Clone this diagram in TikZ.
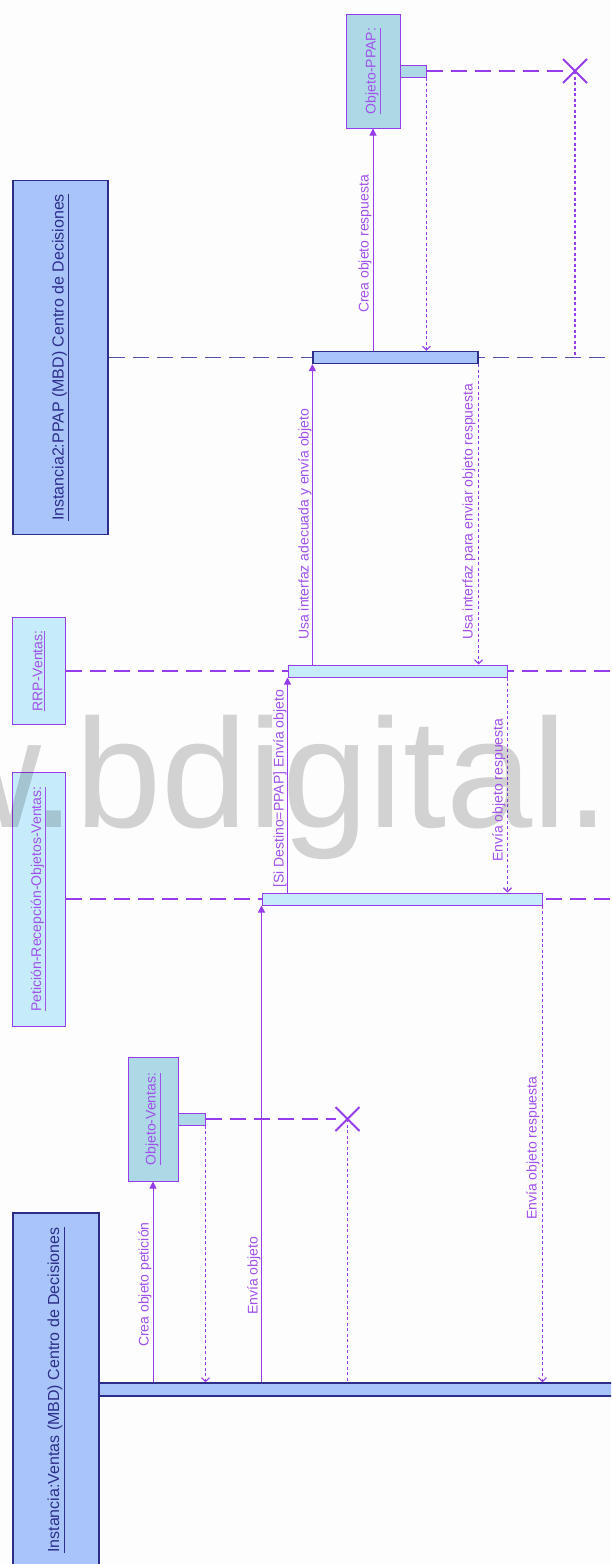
\documentclass[tikz,border=0pt]{standalone}
\usepackage{fontspec}
\setmainfont{Liberation Sans}
\usetikzlibrary{arrows.meta,shapes.misc}
\definecolor{pline}{RGB}{150,60,235}
\definecolor{ptext}{RGB}{160,80,235}
\definecolor{navy}{RGB}{45,45,140}
\definecolor{navylight}{RGB}{80,80,165}
\definecolor{instfill}{RGB}{168,196,248}
\definecolor{cyanfill}{RGB}{198,236,252}
\definecolor{objfill}{RGB}{173,216,230}
\definecolor{bgc}{RGB}{253,253,253}
\begin{document}
\begin{tikzpicture}[x=1pt,y=-1pt,
  instbox/.style={draw=navy, fill=instfill, line width=1.2pt, rotate=90, text=navy,
    font=\fontsize{16}{18}\selectfont, inner sep=0pt},
  objbox/.style={draw=pline, fill=objfill, line width=1pt, rotate=90, text=ptext,
    font=\fontsize{14}{16}\selectfont, inner sep=0pt},
  ctlbox/.style={objbox, fill=cyanfill},
  instbar/.style={draw=navy, fill=instfill, line width=1.2pt, inner sep=0pt, minimum height=12pt},
  ctlbar/.style={draw=pline, fill=cyanfill, line width=1pt, inner sep=0pt, minimum height=12pt},
  actbox/.style={draw=pline, fill=objfill, line width=1pt, inner sep=0pt, minimum height=12pt},
  life/.style={draw=pline, line width=1.2pt, dash pattern=on 16pt off 8pt},
  navylife/.style={draw=navylight, line width=1.2pt, dash pattern=on 16pt off 8pt},
  call/.style={draw=pline, line width=1pt, -{Triangle[width=7pt,length=7pt]}},
  ret/.style={draw=pline, line width=1.1pt, dash pattern=on 3pt off 2.5pt, -{Straight Barb[width=8pt,length=4pt]}},
  destroyline/.style={draw=pline, line width=1.1pt, dash pattern=on 3pt off 2.5pt},
  xmark/.style={cross out, draw=pline, line width=2pt, minimum size=22pt, inner sep=0pt},
  lbl/.style={rotate=90, anchor=base west, text=ptext, font=\fontsize{14}{16}\selectfont, inner sep=0pt}]
\useasboundingbox (0,0) rectangle (611,1564);
\clip (0,0) rectangle (611,1564);
\fill[bgc] (0,0) rectangle (611,1564);

% right-edge coordinates
\coordinate (e2) at (640,357.5);
\coordinate (er) at (640,671);
\coordinate (ep) at (640,899);

% lifeline heads
\node[instbox, minimum width=354pt, minimum height=95pt] (inst2) at (60.5,357.5) {\underline{Instancia2:PPAP (MBD) Centro de Decisiones}};
\node[objbox, minimum width=114pt, minimum height=54pt] (obj1) at (373,71) {\underline{Objeto-PPAP:}};
\node[ctlbox, minimum width=107pt, minimum height=52.5pt] (rrp) at (38.75,671) {\underline{RRP-Ventas:}};
\node[ctlbox, minimum width=254pt, minimum height=53pt] (pet) at (38.5,899) {\underline{Petición-Recepción-Objetos-Ventas:}};
\node[objbox, minimum width=124pt, minimum height=50pt] (obj2) at (153,1119) {\underline{Objeto-Ventas:}};
\node[instbox, minimum width=354pt, minimum height=86pt] (inst) at (56,1390) {\underline{Instancia:Ventas (MBD) Centro de Decisiones}};

% destruction marks
\node[xmark] (x1) at (575,71) {};
\node[xmark] (x2) at (347.5,1119) {};

% lifelines
\draw[navylife] (inst2.south) -- (e2);
\draw[life] (rrp.south) -- (er);
\draw[life] (pet.south) -- (ep);

% activation bars
\node[instbar, minimum width=165pt] (ibar2) at (395.5,357.5) {};
\node[ctlbar, minimum width=219pt] (rbar) at (397.5,671) {};
\node[ctlbar, minimum width=280pt] (pbar) at (402,899) {};
\node[instbar, minimum width=541pt, minimum height=13pt] (ibar) at (369.5,1389.5) {};
\node[actbox, minimum width=26pt] (act1) at (413,71) {};
\node[actbox, minimum width=27pt] (act2) at (191.5,1119) {};

\draw[life] (act1.east) -- (x1);
\draw[life] (act2.east) -- (x2);

% messages
\draw[call] (ibar.north -| obj2.center) -- (obj2.west);
\draw[ret] (act2.south east) -- (act2.south east |- ibar.north);
\draw[call] (ibar.north -| pbar.west) -- (pbar.south west);
\draw[destroyline] (x2.center) -- (x2 |- ibar.north);
\draw[ret] (pbar.south east) -- (pbar.south east |- ibar.north);
\draw[call] (pbar.north -| rbar.west) -- (rbar.south west);
\draw[ret] (rbar.south east) -- (rbar.south east |- pbar.north);
\draw[call] (rbar.north -| ibar2.west) -- (ibar2.south west);
\draw[ret] (ibar2.south east) -- (ibar2.south east |- rbar.north);
\draw[call] (ibar2.north -| obj1.center) -- (obj1.west);
\draw[ret] (act1.south east) -- (act1.south east |- ibar2.north);
\draw[destroyline] (x1.center) -- (x1 |- inst2.south);

% watermark
\node[anchor=base west, inner sep=0pt, text=black, text opacity=0.17,
  font=\fontsize{155}{160}\selectfont] (wm) at (-71,827) {w.bdigital.};

% message labels
\node[lbl] (l8) at (368.5,313) {Crea objeto respuesta};
\node[lbl] (l6) at (308.5,640) {Usa interfaz adecuada y envía objeto};
\node[lbl] (l7) at (472.5,640) {Usa interfaz para enviar objeto respuesta};
\node[lbl] (l4) at (283.5,888) {[Si Destino=PPAP] Envía objeto};
\node[lbl] (l5) at (502.5,862) {Envía objeto respuesta};
\node[lbl] (l1) at (148.5,1347) {Crea objeto petición};
\node[lbl] (l2) at (257.5,1315) {Envía objeto};
\node[lbl] (l3) at (536.5,1220) {Envía objeto respuesta};
\end{tikzpicture}
\end{document}
